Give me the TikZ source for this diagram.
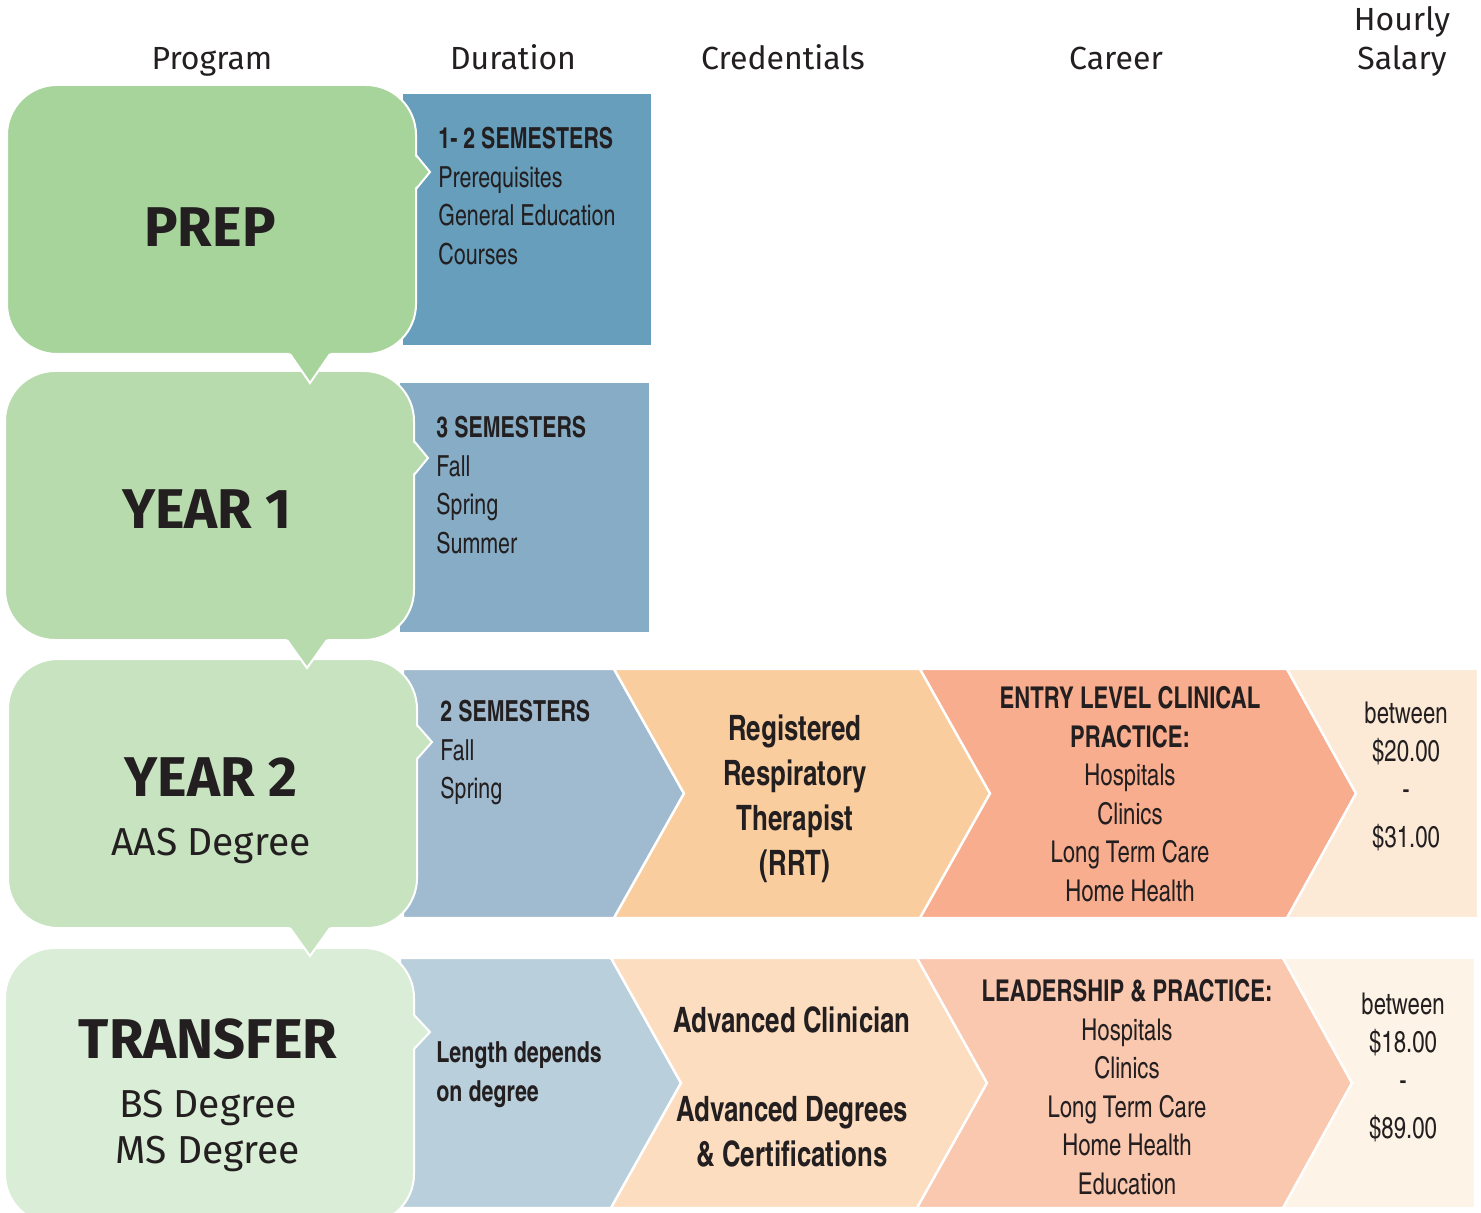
\documentclass[tikz,border=0pt]{standalone}
\usepackage{fontspec}
\setmainfont{Fira Sans}
\newfontfamily\cond{texgyreheroscn}[Extension=.otf,UprightFont=*-regular,BoldFont=*-bold,FakeStretch=0.9]
\usetikzlibrary{positioning}

\definecolor{ink}{HTML}{231F20}
\definecolor{greenA}{HTML}{A6D49B}
\definecolor{greenB}{HTML}{B8DBAE}
\definecolor{greenC}{HTML}{C7E3C0}
\definecolor{greenD}{HTML}{DAEDD6}
\definecolor{blueA}{HTML}{669EBB}
\definecolor{blueB}{HTML}{86ADC5}
\definecolor{blueC}{HTML}{A0BBCF}
\definecolor{blueD}{HTML}{BACFDC}
\definecolor{orangeC}{HTML}{FACD9E}
\definecolor{orangeD}{HTML}{FDDDBF}
\definecolor{salmonC}{HTML}{F8AD8E}
\definecolor{salmonD}{HTML}{FAC7AF}
\definecolor{creamC}{HTML}{FCEAD7}
\definecolor{creamD}{HTML}{FDF3E6}

\begin{document}
\begin{tikzpicture}[x=0.5pt,y=-0.5pt,
    head/.style={font=\fontsize{16}{19.2}\selectfont,text=ink,inner sep=0pt,anchor=base},
    prog/.style={font=\fontsize{28}{34}\selectfont\bfseries,text=ink,inner sep=0pt,anchor=base},
    degree/.style={font=\fontsize{19.5}{23}\selectfont,text=ink,inner sep=0pt,anchor=base},
    dur/.style={font=\cond\fontsize{14.5}{19.25}\selectfont,text=ink,align=left,anchor=north west,inner sep=0pt},
    cred/.style={font=\cond\bfseries\fontsize{17.5}{22.5}\selectfont,text=ink,align=center,inner sep=0pt},
    career/.style={font=\cond\fontsize{15}{19.25}\selectfont,text=ink,align=center,inner sep=0pt},
    pay/.style={font=\cond\fontsize{15}{19}\selectfont,text=ink,align=center,inner sep=0pt},
    chev/.style={draw=white,line width=1.2pt},
    bubble/.style={draw=white,line width=1pt,rounded corners=25pt}]
    \useasboundingbox (0,0) rectangle (1481,1213);

    % duration boxes, rows 1 and 2
    \fill[blueA] (403,94) rectangle (651,345);
    \fill[blueB] (400,383) rectangle (649,632);

    % row 3 chevrons
    \filldraw[blueC,chev] (403,669)--(614,669)--(684,793.5)--(614,918)--(403,918)--cycle;
    \filldraw[orangeC,chev] (614,669)--(920,669)--(990,793.5)--(920,918)--(614,918)--(684,793.5)--cycle;
    \filldraw[salmonC,chev] (920,669)--(1287,669)--(1356,793.5)--(1287,918)--(920,918)--(990,793.5)--cycle;
    \filldraw[creamC,chev] (1287,669)--(1478,669)--(1478,918)--(1287,918)--(1356,793.5)--cycle;

    % row 4 chevrons
    \filldraw[blueD,chev] (400,958)--(611,958)--(681,1083)--(611,1208)--(400,1208)--cycle;
    \filldraw[orangeD,chev] (611,958)--(917,958)--(987,1083)--(917,1208)--(611,1208)--(681,1083)--cycle;
    \filldraw[salmonD,chev] (917,958)--(1283,958)--(1352,1083)--(1283,1208)--(917,1208)--(987,1083)--cycle;
    \filldraw[creamD,chev] (1283,958)--(1475,958)--(1475,1208)--(1283,1208)--(1352,1083)--cycle;

    % program bubbles, bottom one first so each pointer lies on the next
    \filldraw[greenD,bubble] (5,948) rectangle (414,1224);
    \fill[greenD] (412,1015)--(430,1032)--(412,1049)--cycle;
    \draw[white,line width=1pt] (414,1015)--(430,1032)--(414,1049);

    \filldraw[greenC,bubble] (8,659) rectangle (417,928);
    \fill[greenC] (415,725)--(432,742)--(415,759)--cycle;
    \draw[white,line width=1pt] (417,725)--(432,742)--(417,759);
    \fill[greenC] (288.6,926)--(310,956)--(331.4,926)--cycle;
    \draw[white,line width=1pt] (290,928)--(310,956)--(330,928);

    \filldraw[greenB,bubble] (5,371) rectangle (414,640);
    \fill[greenB] (412,441)--(428,458)--(412,475)--cycle;
    \draw[white,line width=1pt] (414,441)--(428,458)--(414,475);
    \fill[greenB] (285.6,638)--(307,668)--(328.4,638)--cycle;
    \draw[white,line width=1pt] (287,640)--(307,668)--(327,640);

    \filldraw[greenA,bubble] (7,85) rectangle (416,354);
    \fill[greenA] (414,155)--(430,172)--(414,189)--cycle;
    \draw[white,line width=1pt] (416,155)--(430,172)--(416,189);
    \fill[greenA] (288.6,352)--(310,383)--(331.4,352)--cycle;
    \draw[white,line width=1pt] (290,354)--(310,383)--(330,354);

    % column heads
    \node[head] (hProgram) at (212,70) {Program};
    \node[head] (hDuration) at (513,70) {Duration};
    \node[head] (hCredentials) at (783,70) {Credentials};
    \node[head] (hCareer) at (1116,70) {Career};
    \node[head] (hHourly) at (1402,31) {Hourly};
    \node[head] (hSalary) at (1402,70) {Salary};

    % programs
    \node[prog] (prep) at (210,247) {PREP};
    \node[prog] (yearOne) at (207,528) {YEAR 1};
    \node[prog] (yearTwo) at (211,796) {YEAR 2};
    \node[degree] (aas) at (211,855) {AAS Degree};
    \node[prog] (transfer) at (208,1058) {TRANSFER};
    \node[degree] (bs) at (208,1117) {BS Degree};
    \node[degree] (ms) at (208,1163) {MS Degree};

    % durations
    \node[dur] (durPrep) at (438,127) {{\bfseries 1- 2 SEMESTERS}\\Prerequisites\\General Education\\Courses};
    \node[dur] (durOne) at (436,416) {{\bfseries 3 SEMESTERS}\\Fall\\Spring\\Summer};
    \node[dur] (durTwo) at (440,700) {{\bfseries 2 SEMESTERS}\\Fall\\Spring};
    \node[dur,font=\cond\bfseries\fontsize{14.5}{19.5}\selectfont] (durTransfer) at (436,1041) {Length depends\\on degree};

    % credentials
    \node[cred] (rrt) at (795,799) {Registered\\Respiratory\\Therapist\\(RRT)};
    \node[cred] (clinician) at (792,1020) {Advanced Clinician};
    \node[cred] (degrees) at (792,1132) {Advanced Degrees\\\& Certifications};

    % careers
    \node[career] (entry) at (1130,794) {{\bfseries ENTRY LEVEL CLINICAL}\\{\bfseries PRACTICE:}\\Hospitals\\Clinics\\Long Term Care\\Home Health};
    \node[career] (leader) at (1127,1087) {{\bfseries LEADERSHIP \& PRACTICE:}\\Hospitals\\Clinics\\Long Term Care\\Home Health\\Education};

    % hourly salary
    \node[pay] (payTwo) at (1406,776) {between\\\$20.00\\-\\[5pt]\$31.00};
    \node[pay] (payTransfer) at (1403,1067) {between\\\$18.00\\-\\[5pt]\$89.00};
\end{tikzpicture}
\end{document}
